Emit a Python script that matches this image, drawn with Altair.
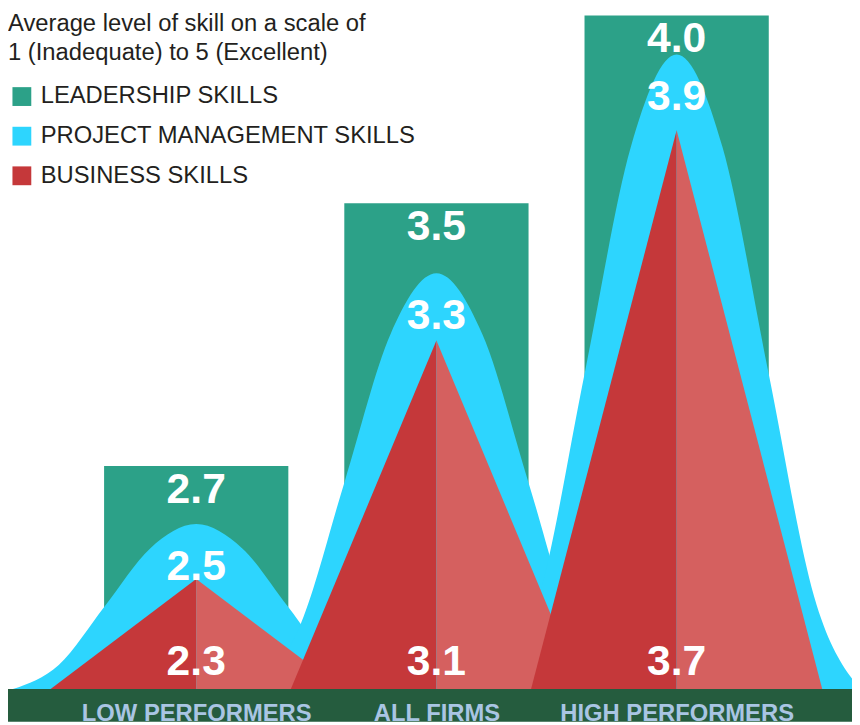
import json
import altair as alt
import pandas as pd

# ---------------- data ----------------
groups = ["LOW PERFORMERS", "ALL FIRMS", "HIGH PERFORMERS"]
series = ["LEADERSHIP SKILLS", "PROJECT MANAGEMENT SKILLS", "BUSINESS SKILLS"]
leadership = [2.7, 3.5, 4.0]
project_mgmt = [2.5, 3.3, 3.9]
business = [2.3, 3.1, 3.7]
title_lines = ["Average level of skill on a scale of", "1 (Inadequate) to 5 (Excellent)"]

# ---------------- style ----------------
W, H = 852, 717
EXP = 1.7                         # pow scale exponent (the infographic stretches the top)
BASE = 1.857                      # value where the shapes sit (floor of the scale)
Y_DOMAIN = [1.711, 4.0106]
X_DOMAIN = [-0.7835, 2.730]
RECT_HALF = 0.3835
TRI_HALF = 0.606
BELL_HALF = 0.763
BELL_T = [-1, -0.75, -0.5, -0.25, 0, 0.25, 0.5, 0.75, 1]          # bell glyph outline
BELL_F = [0, 0.146, 0.5, 0.854, 1, 0.854, 0.5, 0.146, 0]           # (fraction of height)

GREEN = "#2ca188"
CYAN = "#2dd5fe"
RED = "#c5383a"
RED_LIGHT = "#d5605f"
DARK = "#255c3e"
CAT_COLOR = "#a9c5e3"
TEXT = "#231f20"
FONT = "Liberation Sans"

# ---------------- tables ----------------
rect_df = pd.DataFrame({
    "group": groups,
    "series": series[0],
    "value": leadership,
    "xl": [i - RECT_HALF for i in range(3)],
    "xr": [i + RECT_HALF for i in range(3)],
    "base": BASE,
    "label": [f"{v:.1f}" for v in leadership],
    "xc": list(range(3)),
})


def along_scale(v, f):
    """value lying at fraction f of the drawn height between BASE and v (pow scale)"""
    b = BASE ** EXP
    return (b + f * (v ** EXP - b)) ** (1 / EXP)


bell_rows = []
for i, (g, v) in enumerate(zip(groups, project_mgmt)):
    for t, f in zip(BELL_T, BELL_F):
        bell_rows.append({"group": g, "series": series[1], "x": i + t * BELL_HALF,
                          "y": along_scale(v, f), "base": BASE})
bell_df = pd.DataFrame(bell_rows)
pm_lab = pd.DataFrame({"xc": list(range(3)), "value": project_mgmt,
                       "label": [f"{v:.1f}" for v in project_mgmt]})
bus_lab = pd.DataFrame({"xc": list(range(3)), "value": business, "base": BASE,
                        "label": [f"{v:.1f}" for v in business]})

# ---------------- scales ----------------
xs = alt.Scale(domain=X_DOMAIN, nice=False, zero=False)
ys = alt.Scale(type="pow", exponent=EXP, domain=Y_DOMAIN, nice=False, zero=False)
cs = alt.Scale(domain=series, range=[GREEN, CYAN, RED])

x_axis = alt.Axis(
    values=[0, 1, 2], labelExpr=f"{json.dumps(groups)}[datum.value]",
    domain=False, ticks=False, grid=False, title=None, labelAngle=0,
    labelBaseline="middle", labelAlign="center", labelPadding=25, offset=-33,
    labelFont=FONT, labelFontSize=24, labelFontWeight="bold", labelColor=CAT_COLOR,
    labelFlush=False, labelOverlap=False, labelBound=False, labelLimit=0, zindex=1,
)
legend = alt.Legend(
    orient="none", legendX=2, legendY=74, title=None, symbolType="square",
    symbolSize=361, symbolStrokeWidth=0, symbolOpacity=1, labelFont=FONT,
    labelFontSize=24, labelColor=TEXT, labelOffset=7, rowPadding=16,
    padding=0, labelLimit=0,
)


def X(field):
    return alt.X(field, type="quantitative", scale=xs, axis=x_axis)


def Y(field):
    return alt.Y(field, type="quantitative", scale=ys, axis=None, stack=None)


color = alt.Color("series:N", scale=cs, legend=legend)

layers = []
# green rectangles
layers.append(alt.Chart(rect_df).mark_rect().encode(
    x=X("xl"), x2="xr", y=Y("value"), y2="base", color=color))
# cyan bells
layers.append(alt.Chart(bell_df).mark_area(interpolate="monotone", opacity=1).encode(
    x=X("x"), y=Y("y"), y2="base", detail="group:N", color=color))
# red triangles (per group: dark left half, light right half)
for i, (g, v) in enumerate(zip(groups, business)):
    left = pd.DataFrame({"x": [i - TRI_HALF, i], "y": [BASE, v], "base": BASE,
                         "series": series[2], "group": g})
    right = pd.DataFrame({"x": [i, i + TRI_HALF], "y": [v, BASE], "base": BASE,
                          "group": g})
    layers.append(alt.Chart(left).mark_area(interpolate="linear", opacity=1).encode(
        x=X("x"), y=Y("y"), y2="base", color=color))
    layers.append(alt.Chart(right).mark_area(interpolate="linear", opacity=1,
                                             color=RED_LIGHT).encode(
        x=X("x"), y=Y("y"), y2="base"))

# dark base band
band = pd.DataFrame({"a": [0]})
layers.append(alt.Chart(band).mark_rect(color=DARK).encode(
    x=alt.value(0), x2=alt.value(W),
    y=alt.Y(datum=BASE, type="quantitative", scale=ys, axis=None),
    y2=alt.Y2(datum=Y_DOMAIN[0])))

num_style = dict(font=FONT, fontSize=43, fontWeight="bold", color="white",
                 align="center", baseline="middle")
layers.append(alt.Chart(rect_df).mark_text(dy=24, **num_style).encode(
    x=X("xc"), y=Y("value"), text="label:N"))
layers.append(alt.Chart(pm_lab).mark_text(dy=43, **num_style).encode(
    x=X("xc"), y=Y("value"), text="label:N"))
layers.append(alt.Chart(bus_lab).mark_text(dy=-27, **num_style).encode(
    x=X("xc"), y=Y("base"), text="label:N"))

# title lines
for line, yv in zip(title_lines, [20, 49]):
    layers.append(alt.Chart(pd.DataFrame({"t": [line]})).mark_text(
        font=FONT, fontSize=24, color=TEXT, align="left", baseline="alphabetic").encode(
        x=alt.value(0), y=alt.value(yv), text="t:N"))

chart = alt.layer(*layers).properties(
    width=W, height=H, padding=0,
    autosize=alt.AutoSizeParams(type="none"),
).configure_view(stroke=None)

chart.save("out.html", embed_options={"renderer": "svg", "actions": False})
